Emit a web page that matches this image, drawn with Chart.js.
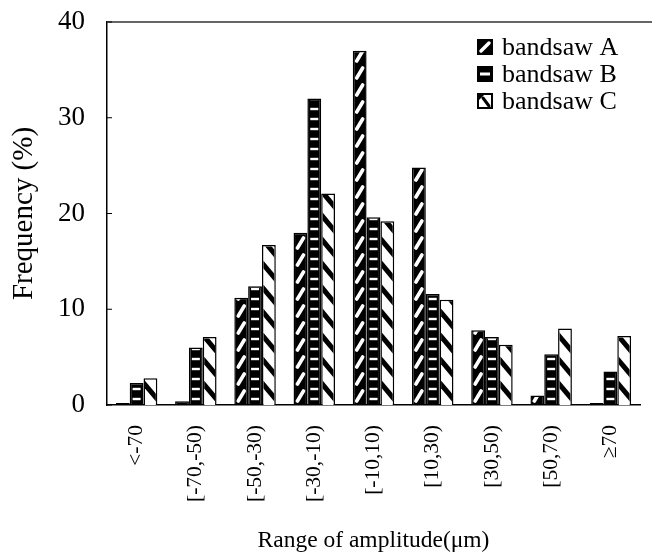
<!DOCTYPE html>
<html>
<head>
<meta charset="utf-8">
<script src="https://cdn.jsdelivr.net/npm/chart.js"></script>
<style>
  html, body { margin: 0; padding: 0; background: #fff; }
  #wrap { width: 652px; height: 558px; }
</style>
</head>
<body>
<div id="wrap"><canvas id="barchart" width="652" height="558"></canvas></div>
<script>
var categories = ['<-70', '[-70,-50)', '[-50,-30)', '[-30,-10)', '[-10,10)', '[10,30)', '[30,50)', '[50,70)', '≥70'];
var bandsawA = [0.2, 0.4, 11.2, 18.0, 37.0, 24.8, 7.8, 1.0, 0.2];
var bandsawB = [2.3, 6.0, 12.4, 32.0, 19.6, 11.6, 7.1, 5.3, 3.5];
var bandsawC = [2.8, 7.1, 16.7, 22.1, 19.2, 11.0, 6.3, 8.0, 7.2];
var seriesNames = ['bandsaw A', 'bandsaw B', 'bandsaw C'];
var yMin = 0, yMax = 40, yStep = 10;

var serif = "'Liberation Serif', 'DejaVu Serif', serif";

// fill patterns, drawn inside a clip box
function drawMarks(ctx, kind, left, top, w, h, bottom) {
  ctx.save();
  ctx.beginPath();
  ctx.rect(left, top, w, h);
  ctx.clip();
  var cx = left + w / 2;
  if (kind === 0) {
    ctx.strokeStyle = '#fff';
    ctx.lineWidth = 3.6;
    ctx.lineCap = 'round';
    for (var y = bottom - 9; y > top - 20; y -= 17) {
      ctx.beginPath();
      ctx.moveTo(cx - 3, y + 5);
      ctx.lineTo(cx + 3, y - 5);
      ctx.stroke();
    }
  } else if (kind === 1) {
    ctx.fillStyle = '#fff';
    for (var y2 = bottom - 6; y2 > top - 5; y2 -= 10) {
      ctx.fillRect(cx - 4, y2 - 1.2, 8, 2.4);
    }
  } else {
    ctx.strokeStyle = '#000';
    ctx.lineWidth = 5;
    for (var y3 = bottom + 10; y3 > top - 40; y3 -= 24) {
      ctx.beginPath();
      ctx.moveTo(left - 3, y3 - 10);
      ctx.lineTo(left + w + 3, y3 + 10);
      ctx.stroke();
    }
  }
  ctx.restore();
}

var patternPlugin = {
  id: 'patterns',
  afterDatasetsDraw: function(chart) {
    var ctx = chart.ctx;
    chart.data.datasets.forEach(function(ds, di) {
      var meta = chart.getDatasetMeta(di);
      meta.data.forEach(function(bar) {
        var p = bar.getProps(['x', 'y', 'base', 'width'], true);
        var left = p.x - p.width / 2 + 1.5;
        var top = Math.min(p.y, p.base) + 1.5;
        var h = Math.abs(p.base - p.y) - 2;
        if (h < 3) return;
        drawMarks(ctx, di, left, top, p.width - 3, h, p.base);
      });
    });
  },
  afterDraw: function(chart) {
    var ctx = chart.ctx;
    var area = chart.chartArea;
    ctx.save();
    // top frame line
    ctx.strokeStyle = '#666';
    ctx.lineWidth = 2;
    ctx.beginPath();
    ctx.moveTo(area.left, area.top);
    ctx.lineTo(chart.width, area.top);
    ctx.stroke();
    // inward y ticks
    var ys = chart.scales.y;
    ctx.strokeStyle = '#000';
    ctx.lineWidth = 1;
    for (var v = yMin; v <= yMax; v += yStep) {
      var py = ys.getPixelForValue(v);
      ctx.beginPath();
      ctx.moveTo(area.left, py);
      ctx.lineTo(area.left + 5, py);
      ctx.stroke();
    }
    // legend
    var lx = area.right - 163;
    var ly = area.top + 25;
    ctx.font = '26px ' + serif;
    ctx.textBaseline = 'middle';
    chart.data.datasets.forEach(function(ds, i) {
      var yy = ly + i * 27;
      var bx = lx, by = yy - 8, bs = 16;
      ctx.fillStyle = i === 2 ? '#fff' : '#000';
      ctx.fillRect(bx, by, bs, bs);
      if (i === 0) {
        ctx.strokeStyle = '#fff'; ctx.lineWidth = 3.5; ctx.lineCap = 'round';
        ctx.beginPath(); ctx.moveTo(bx + 4, by + 12); ctx.lineTo(bx + 12, by + 4); ctx.stroke();
      } else if (i === 1) {
        ctx.fillStyle = '#fff';
        ctx.fillRect(bx + 3, by + 6.5, 10, 3);
      } else {
        ctx.strokeStyle = '#000'; ctx.lineWidth = 2;
        ctx.strokeRect(bx + 1, by + 1, bs - 2, bs - 2);
        ctx.fillStyle = '#000';
        ctx.beginPath(); ctx.moveTo(bx, by); ctx.lineTo(bx + 9, by); ctx.lineTo(bx, by + 9); ctx.fill();
        ctx.lineWidth = 3;
        ctx.beginPath(); ctx.moveTo(bx + 6, by + 5); ctx.lineTo(bx + 12, by + 13); ctx.stroke();
      }
      ctx.fillStyle = '#000';
      ctx.fillText(ds.label, bx + 25, yy + 1);
    });
    ctx.restore();
  }
};

new Chart(document.getElementById('barchart'), {
  type: 'bar',
  data: {
    labels: categories,
    datasets: [{
      label: seriesNames[0],
      data: bandsawA,
      backgroundColor: '#000',
      borderColor: '#000',
      borderWidth: 1.5
    }, {
      label: seriesNames[1],
      data: bandsawB,
      backgroundColor: '#000',
      borderColor: '#000',
      borderWidth: 1.5
    }, {
      label: seriesNames[2],
      data: bandsawC,
      backgroundColor: '#fff',
      borderColor: '#000',
      borderWidth: 1.5
    }]
  },
  options: {
    responsive: false,
    animation: false,
    devicePixelRatio: 1,
    layout: { padding: { left: 0, top: 22, right: 12, bottom: 0 } },
    datasets: { bar: { categoryPercentage: 0.7, barPercentage: 1.0 } },
    plugins: {
      legend: { display: false },
      tooltip: { enabled: false }
    },
    scales: {
      x: {
        grid: { display: false },
        border: { display: true, color: '#000', width: 1.5 },
        ticks: {
          color: '#000',
          font: { family: serif, size: 21.5 },
          minRotation: 90,
          maxRotation: 90,
          autoSkip: false,
          padding: 12
        },
        title: {
          display: true,
          text: 'Range of amplitude(μm)',
          color: '#000',
          font: { family: serif, size: 23.5 },
          padding: { top: 4, bottom: 3 }
        },
        afterFit: function(scale) { scale.height = 153; scale.paddingRight = 0; scale.paddingLeft = 0; }
      },
      y: {
        min: yMin,
        max: yMax,
        grid: { display: false, drawTicks: false },
        border: { display: true, color: '#000', width: 1.5 },
        ticks: {
          stepSize: yStep,
          color: '#000',
          font: { family: serif, size: 27 },
          padding: 22
        },
        title: {
          display: true,
          text: 'Frequency (%)',
          color: '#000',
          font: { family: serif, size: 29 },
          padding: { top: 7, bottom: 0 }
        },
        afterFit: function(scale) { scale.width = 107; scale.paddingTop = 0; scale.paddingBottom = 0; }
      }
    }
  },
  plugins: [patternPlugin]
});
</script>
</body>
</html>
